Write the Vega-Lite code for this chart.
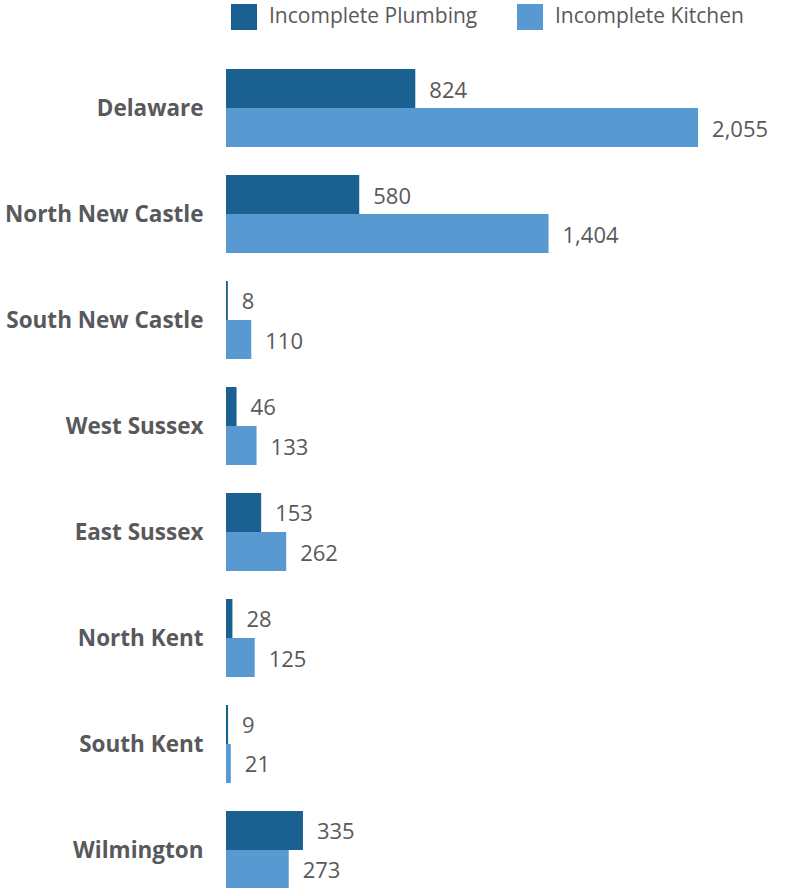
{
  "$schema": "https://vega.github.io/schema/vega-lite/v6.json",
  "autosize": {"type": "none"},
  "padding": {"left": 226, "top": 69, "right": 0, "bottom": 0},
  "width": 561,
  "height": 820,
  "background": "white",
  "config": {"view": {"stroke": null}, "font": "Open Sans"},
  "data": {"values": [
    {"region": "Delaware", "type": "Incomplete Plumbing", "value": 824},
    {"region": "Delaware", "type": "Incomplete Kitchen", "value": 2055},
    {"region": "North New Castle", "type": "Incomplete Plumbing", "value": 580},
    {"region": "North New Castle", "type": "Incomplete Kitchen", "value": 1404},
    {"region": "South New Castle", "type": "Incomplete Plumbing", "value": 8},
    {"region": "South New Castle", "type": "Incomplete Kitchen", "value": 110},
    {"region": "West Sussex", "type": "Incomplete Plumbing", "value": 46},
    {"region": "West Sussex", "type": "Incomplete Kitchen", "value": 133},
    {"region": "East Sussex", "type": "Incomplete Plumbing", "value": 153},
    {"region": "East Sussex", "type": "Incomplete Kitchen", "value": 262},
    {"region": "North Kent", "type": "Incomplete Plumbing", "value": 28},
    {"region": "North Kent", "type": "Incomplete Kitchen", "value": 125},
    {"region": "South Kent", "type": "Incomplete Plumbing", "value": 9},
    {"region": "South Kent", "type": "Incomplete Kitchen", "value": 21},
    {"region": "Wilmington", "type": "Incomplete Plumbing", "value": 335},
    {"region": "Wilmington", "type": "Incomplete Kitchen", "value": 273}
  ]},
  "encoding": {
    "y": {
      "field": "region", "type": "nominal", "sort": null,
      "scale": {"paddingInner": 0.264, "paddingOuter": 0},
      "axis": {"title": null, "domain": false, "ticks": false, "labelPadding": 23, "labelOffset": 1, "labelFontSize": 22.5, "labelFontWeight": "bold", "labelColor": "#58595b", "labelFont": "Open Sans", "labelLimit": 300}
    },
    "yOffset": {"field": "type", "type": "nominal", "scale": {"domain": ["Incomplete Plumbing", "Incomplete Kitchen"], "paddingInner": 0, "paddingOuter": 0}},
    "x": {"field": "value", "type": "quantitative", "scale": {"domain": [0, 2442], "nice": false}, "axis": null}
  },
  "layer": [
    {
      "mark": {"type": "bar"},
      "encoding": {
        "color": {
          "field": "type", "type": "nominal",
          "scale": {"domain": ["Incomplete Plumbing", "Incomplete Kitchen"], "range": ["#1a6191", "#5799d0"]},
          "legend": {
            "title": null, "orient": "none", "direction": "horizontal",
            "legendX": 5, "legendY": -65,
            "symbolType": "square", "symbolSize": 676, "symbolStrokeWidth": 0, "symbolOpacity": 1,
            "labelFontSize": 21, "labelColor": "#595959", "labelFont": "Open Sans", "labelLimit": 400,
            "labelOffset": 12, "columnPadding": 39, "padding": 0
          }
        }
      }
    },
    {
      "mark": {"type": "text", "align": "left", "baseline": "middle", "dx": 14, "dy": 2, "fontSize": 22, "color": "#595959", "font": "Open Sans"},
      "encoding": {
        "text": {"field": "value", "type": "quantitative", "format": ","}
      }
    }
  ]
}
